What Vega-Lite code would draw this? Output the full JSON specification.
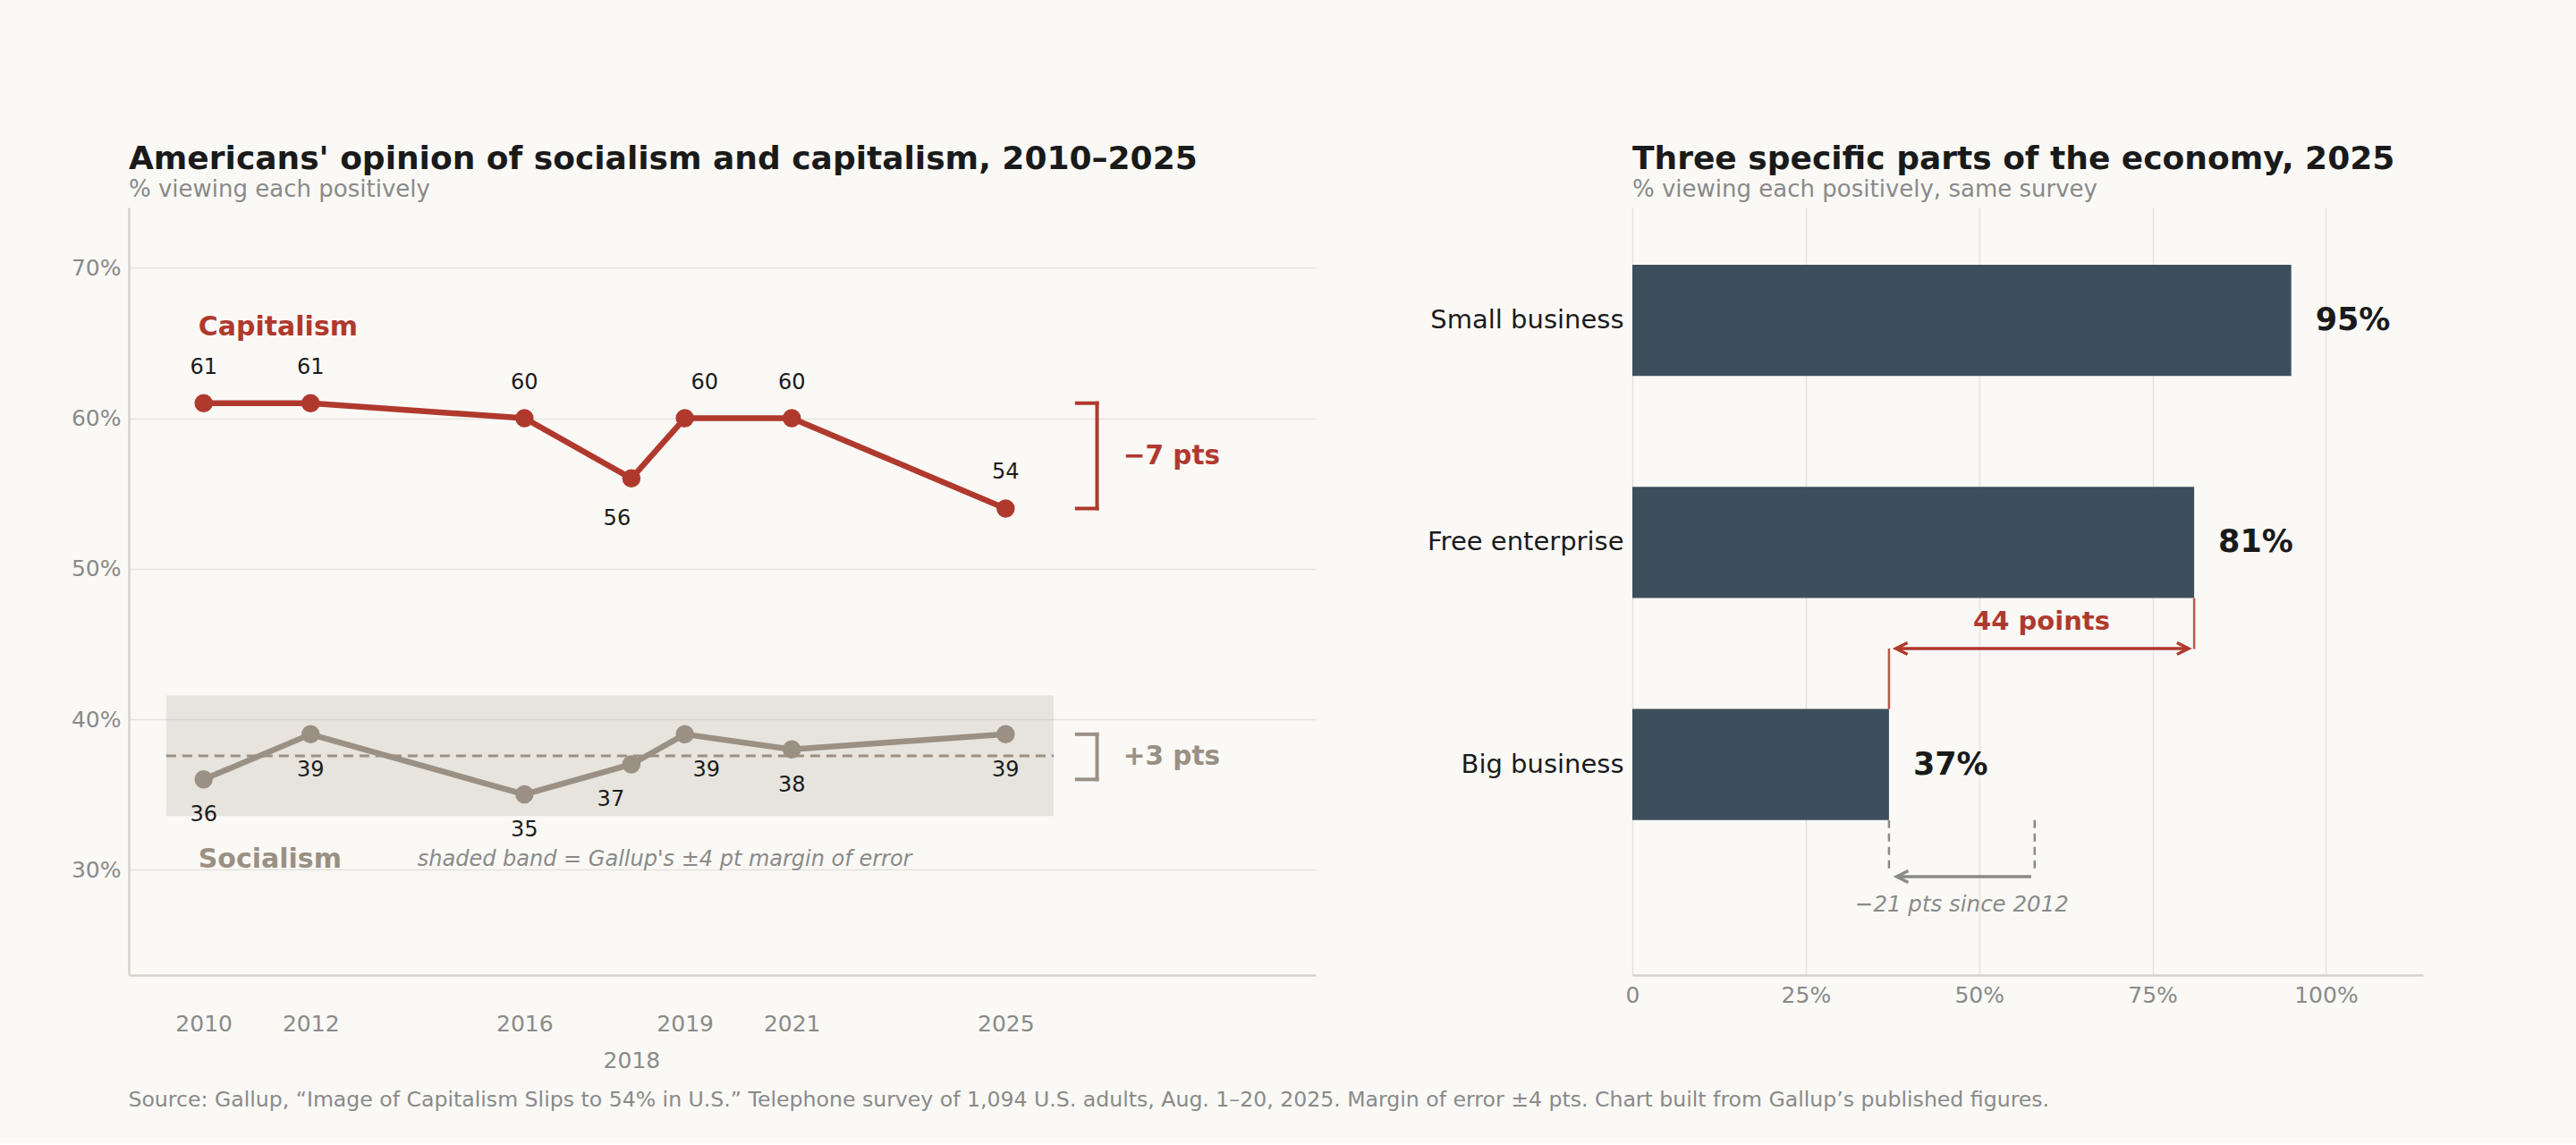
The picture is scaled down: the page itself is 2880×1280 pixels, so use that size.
{
  "$schema": "https://vega.github.io/schema/vega-lite/v6.json",
  "background": "#faf9f6",
  "padding": {"left": 79, "top": 160, "right": 174, "bottom": 35},
  "title": {
    "text": "Source: Gallup, “Image of Capitalism Slips to 54% in U.S.” Telephone survey of 1,094 U.S. adults, Aug. 1–20, 2025. Margin of error ±4 pts. Chart built from Gallup’s published figures.",
    "orient": "bottom",
    "anchor": "start",
    "frame": "bounds",
    "dx": 64,
    "offset": 20,
    "fontSize": 23.6,
    "fontWeight": "normal",
    "color": "#8a8a8a"
  },
  "datasets": {
    "trend": [
      {"year": 2010, "series": "Capitalism", "value": 61},
      {"year": 2012, "series": "Capitalism", "value": 61},
      {"year": 2016, "series": "Capitalism", "value": 60},
      {"year": 2018, "series": "Capitalism", "value": 56},
      {"year": 2019, "series": "Capitalism", "value": 60},
      {"year": 2021, "series": "Capitalism", "value": 60},
      {"year": 2025, "series": "Capitalism", "value": 54},
      {"year": 2010, "series": "Socialism", "value": 36},
      {"year": 2012, "series": "Socialism", "value": 39},
      {"year": 2016, "series": "Socialism", "value": 35},
      {"year": 2018, "series": "Socialism", "value": 37},
      {"year": 2019, "series": "Socialism", "value": 39},
      {"year": 2021, "series": "Socialism", "value": 38},
      {"year": 2025, "series": "Socialism", "value": 39}
    ],
    "band": [{"x0": 2009.3, "x1": 2025.9, "lo": 33.57, "hi": 41.57, "mean": 37.57}],
    "brackets": [
      {"series": "Capitalism", "x": 2026.71, "x2": 2026.71, "y": 54, "y2": 61},
      {"series": "Capitalism", "x": 2026.33, "x2": 2026.71, "y": 61, "y2": 61},
      {"series": "Capitalism", "x": 2026.33, "x2": 2026.71, "y": 54, "y2": 54},
      {"series": "Socialism", "x": 2026.71, "x2": 2026.71, "y": 36, "y2": 39},
      {"series": "Socialism", "x": 2026.33, "x2": 2026.71, "y": 39, "y2": 39},
      {"series": "Socialism", "x": 2026.33, "x2": 2026.71, "y": 36, "y2": 36}
    ],
    "bracketLabels": [
      {"series": "Capitalism", "x": 2027.2, "y": 57.5, "label": "−7 pts"},
      {"series": "Socialism", "x": 2027.2, "y": 37.5, "label": "+3 pts"}
    ],
    "seriesLabels": [
      {"series": "Capitalism", "x": 2009.9, "y": 66.06},
      {"series": "Socialism", "x": 2009.9, "y": 30.64}
    ],
    "note": [{"x": 2014.0, "y": 30.64, "label": "shaded band = Gallup's ±4 pt margin of error"}],
    "econ": [
      {"item": "Small business", "pct": 0.95},
      {"item": "Free enterprise", "pct": 0.81},
      {"item": "Big business", "pct": 0.37}
    ]
  },
  "hconcat": [
    {
      "width": 1327,
      "height": 858,
      "title": {
        "text": "Americans' opinion of socialism and capitalism, 2010–2025",
        "subtitle": "% viewing each positively",
        "anchor": "start",
        "frame": "group",
        "fontSize": 36,
        "fontWeight": "bold",
        "color": "#1a1a1a",
        "subtitleFontSize": 26,
        "subtitleColor": "#8a8a8a",
        "subtitlePadding": 2,
        "offset": 6
      },
      "layer": [
        {
          "data": {"name": "band"},
          "mark": {"type": "rect", "color": "#9a9083", "opacity": 0.2},
          "encoding": {
            "x": {
              "field": "x0", "type": "quantitative",
              "scale": {"domain": [2008.6, 2030.8], "nice": false, "zero": false},
              "axis": {
                "values": [2010, 2012, 2016, 2018, 2019, 2021, 2025],
                "format": "d",
                "labelExpr": "datum.value == 2018 ? ['', '2018'] : datum.label",
                "labelOverlap": false,
                "labelFlush": false,
                "labelPadding": 42,
                "labelLineHeight": 41,
                "grid": false
              }
            },
            "x2": {"field": "x1"},
            "y": {
              "field": "lo", "type": "quantitative",
              "scale": {"domain": [23, 74], "nice": false, "zero": false},
              "axis": {
                "values": [30, 40, 50, 60, 70],
                "labelExpr": "datum.value + '%'",
                "labelPadding": 9,
                "grid": true
              }
            },
            "y2": {"field": "hi"}
          }
        },
        {
          "data": {"name": "band"},
          "mark": {"type": "rule", "color": "#9a9083", "strokeWidth": 3, "strokeDash": [11, 7]},
          "encoding": {
            "x": {"field": "x0", "type": "quantitative"},
            "x2": {"field": "x1"},
            "y": {"field": "mean", "type": "quantitative"}
          }
        },
        {
          "data": {"name": "trend"},
          "mark": {"type": "line", "strokeWidth": 6.5},
          "encoding": {
            "x": {"field": "year", "type": "quantitative"},
            "y": {"field": "value", "type": "quantitative"},
            "color": {
              "field": "series", "type": "nominal",
              "scale": {"domain": ["Capitalism", "Socialism"], "range": ["#b0392e", "#9a9083"]},
              "legend": null
            }
          }
        },
        {
          "data": {"name": "trend"},
          "mark": {"type": "point", "filled": true, "size": 420, "opacity": 1},
          "encoding": {
            "x": {"field": "year", "type": "quantitative"},
            "y": {"field": "value", "type": "quantitative"},
            "color": {"field": "series", "type": "nominal", "legend": null}
          }
        },
        {
          "data": {"name": "trend"},
          "transform": [{"filter": "datum.series == 'Capitalism' && datum.year != 2018 && datum.year != 2019"}],
          "mark": {"type": "text", "fontSize": 24, "color": "#1a1a1a", "baseline": "middle", "dy": -40},
          "encoding": {
            "x": {"field": "year", "type": "quantitative"},
            "y": {"field": "value", "type": "quantitative"},
            "text": {"field": "value", "type": "quantitative"}
          }
        },
        {
          "data": {"name": "trend"},
          "transform": [{"filter": "datum.series == 'Capitalism' && datum.year == 2018"}],
          "mark": {"type": "text", "fontSize": 24, "color": "#1a1a1a", "baseline": "middle", "dy": 45, "dx": -16},
          "encoding": {
            "x": {"field": "year", "type": "quantitative"},
            "y": {"field": "value", "type": "quantitative"},
            "text": {"field": "value", "type": "quantitative"}
          }
        },
        {
          "data": {"name": "trend"},
          "transform": [{"filter": "datum.series == 'Capitalism' && datum.year == 2019"}],
          "mark": {"type": "text", "fontSize": 24, "color": "#1a1a1a", "baseline": "middle", "dy": -40, "dx": 22},
          "encoding": {
            "x": {"field": "year", "type": "quantitative"},
            "y": {"field": "value", "type": "quantitative"},
            "text": {"field": "value", "type": "quantitative"}
          }
        },
        {
          "data": {"name": "trend"},
          "transform": [{"filter": "datum.series == 'Socialism' && datum.year != 2018 && datum.year != 2019"}],
          "mark": {"type": "text", "fontSize": 24, "color": "#1a1a1a", "baseline": "middle", "dy": 40},
          "encoding": {
            "x": {"field": "year", "type": "quantitative"},
            "y": {"field": "value", "type": "quantitative"},
            "text": {"field": "value", "type": "quantitative"}
          }
        },
        {
          "data": {"name": "trend"},
          "transform": [{"filter": "datum.series == 'Socialism' && datum.year == 2018"}],
          "mark": {"type": "text", "fontSize": 24, "color": "#1a1a1a", "baseline": "middle", "dy": 40, "dx": -23},
          "encoding": {
            "x": {"field": "year", "type": "quantitative"},
            "y": {"field": "value", "type": "quantitative"},
            "text": {"field": "value", "type": "quantitative"}
          }
        },
        {
          "data": {"name": "trend"},
          "transform": [{"filter": "datum.series == 'Socialism' && datum.year == 2019"}],
          "mark": {"type": "text", "fontSize": 24, "color": "#1a1a1a", "baseline": "middle", "dy": 40, "dx": 24},
          "encoding": {
            "x": {"field": "year", "type": "quantitative"},
            "y": {"field": "value", "type": "quantitative"},
            "text": {"field": "value", "type": "quantitative"}
          }
        },
        {
          "data": {"name": "brackets"},
          "mark": {"type": "rule", "strokeWidth": 4, "strokeCap": "square"},
          "encoding": {
            "x": {"field": "x", "type": "quantitative"},
            "x2": {"field": "x2"},
            "y": {"field": "y", "type": "quantitative"},
            "y2": {"field": "y2"},
            "color": {"field": "series", "type": "nominal", "legend": null}
          }
        },
        {
          "data": {"name": "bracketLabels"},
          "mark": {"type": "text", "fontSize": 29.5, "fontWeight": "bold", "align": "left", "baseline": "middle"},
          "encoding": {
            "x": {"field": "x", "type": "quantitative"},
            "y": {"field": "y", "type": "quantitative"},
            "text": {"field": "label", "type": "nominal"},
            "color": {"field": "series", "type": "nominal", "legend": null}
          }
        },
        {
          "data": {"name": "seriesLabels"},
          "mark": {"type": "text", "fontSize": 30, "fontWeight": "bold", "align": "left", "baseline": "middle"},
          "encoding": {
            "x": {"field": "x", "type": "quantitative"},
            "y": {"field": "y", "type": "quantitative"},
            "text": {"field": "series", "type": "nominal"},
            "color": {"field": "series", "type": "nominal", "legend": null}
          }
        },
        {
          "data": {"name": "note"},
          "mark": {"type": "text", "fontSize": 24, "fontStyle": "italic", "color": "#8a8a8a", "align": "left", "baseline": "middle"},
          "encoding": {
            "x": {"field": "x", "type": "quantitative"},
            "y": {"field": "y", "type": "quantitative"},
            "text": {"field": "label", "type": "nominal"}
          }
        }
      ]
    },
    {
      "width": 884,
      "height": 858,
      "title": {
        "text": "Three specific parts of the economy, 2025",
        "subtitle": "% viewing each positively, same survey",
        "anchor": "start",
        "frame": "group",
        "fontSize": 36,
        "fontWeight": "bold",
        "color": "#1a1a1a",
        "subtitleFontSize": 26,
        "subtitleColor": "#8a8a8a",
        "subtitlePadding": 2,
        "offset": 6
      },
      "layer": [
        {
          "data": {"name": "econ"},
          "mark": {"type": "bar", "color": "#3d4f5c"},
          "encoding": {
            "x": {
              "field": "pct", "type": "quantitative",
              "scale": {"domain": [0, 1.14], "nice": false},
              "axis": {
                "values": [0, 0.25, 0.5, 0.75, 1],
                "format": ".0%",
                "labelExpr": "datum.value == 0 ? '0' : datum.label",
                "labelFlush": false,
                "labelOverlap": false,
                "labelPadding": 10,
                "grid": true
              }
            },
            "y": {
              "field": "item", "type": "nominal", "sort": null,
              "scale": {
                "domain": ["Small business", "Free enterprise", "Big business"],
                "paddingInner": 0.5, "paddingOuter": 0.478, "align": 0.27
              },
              "axis": {"labelColor": "#1a1a1a", "labelFontSize": 29, "labelPadding": 10, "labelLimit": 0, "domain": false, "grid": false}
            }
          }
        },
        {
          "data": {"name": "econ"},
          "mark": {"type": "text", "fontSize": 35, "fontWeight": "bold", "color": "#1a1a1a", "align": "left", "baseline": "middle", "dx": 27},
          "encoding": {
            "x": {"field": "pct", "type": "quantitative"},
            "y": {"field": "item", "type": "nominal"},
            "text": {"field": "pct", "type": "quantitative", "format": ".0%"}
          }
        },
        {
          "data": {"values": [{"item": "Free enterprise", "item2": "Big business", "pct": 0.81}]},
          "mark": {"type": "rule", "color": "#c0554a", "strokeWidth": 2.5},
          "encoding": {
            "x": {"field": "pct", "type": "quantitative"},
            "y": {"field": "item", "type": "nominal", "bandPosition": 1},
            "y2": {"field": "item2", "bandPosition": -0.54}
          }
        },
        {
          "data": {"values": [{"item": "Big business", "pct": 0.37}]},
          "mark": {"type": "rule", "color": "#c0554a", "strokeWidth": 2.5},
          "encoding": {
            "x": {"field": "pct", "type": "quantitative"},
            "y": {"field": "item", "type": "nominal", "bandPosition": -0.545},
            "y2": {"field": "item", "bandPosition": 0}
          }
        },
        {
          "data": {"values": [{"item": "Big business", "from": 0.38, "to": 0.802}]},
          "mark": {"type": "rule", "color": "#b0392e", "strokeWidth": 3.5},
          "encoding": {
            "x": {"field": "from", "type": "quantitative"},
            "x2": {"field": "to"},
            "y": {"field": "item", "type": "nominal", "bandPosition": -0.545}
          }
        },
        {
          "data": {"values": [{"item": "Big business", "tip": 0.38}]},
          "mark": {"type": "point", "shape": "M1,-0.5L0,0L1,0.5", "size": 676, "filled": false, "color": "#b0392e", "strokeWidth": 3.5, "opacity": 1},
          "encoding": {
            "x": {"field": "tip", "type": "quantitative"},
            "y": {"field": "item", "type": "nominal", "bandPosition": -0.545}
          }
        },
        {
          "data": {"values": [{"item": "Big business", "tip": 0.802}]},
          "mark": {"type": "point", "shape": "M-1,-0.5L0,0L-1,0.5", "size": 676, "filled": false, "color": "#b0392e", "strokeWidth": 3.5, "opacity": 1},
          "encoding": {
            "x": {"field": "tip", "type": "quantitative"},
            "y": {"field": "item", "type": "nominal", "bandPosition": -0.545}
          }
        },
        {
          "data": {"values": [{"item": "Big business", "mid": 0.59, "label": "44 points"}]},
          "mark": {"type": "text", "fontSize": 29, "fontWeight": "bold", "color": "#b0392e", "baseline": "middle"},
          "encoding": {
            "x": {"field": "mid", "type": "quantitative"},
            "y": {"field": "item", "type": "nominal", "bandPosition": -0.79},
            "text": {"field": "label", "type": "nominal"}
          }
        },
        {
          "data": {"values": [{"item": "Big business", "pct": 0.37}, {"item": "Big business", "pct": 0.58}]},
          "mark": {"type": "rule", "color": "#8a8a8a", "strokeWidth": 2.5, "strokeDash": [9, 6]},
          "encoding": {
            "x": {"field": "pct", "type": "quantitative"},
            "y": {"field": "item", "type": "nominal", "bandPosition": 1},
            "y2": {"field": "item", "bandPosition": 1.48}
          }
        },
        {
          "data": {"values": [{"item": "Big business", "from": 0.381, "to": 0.575}]},
          "mark": {"type": "rule", "color": "#8a8a8a", "strokeWidth": 3.5},
          "encoding": {
            "x": {"field": "from", "type": "quantitative"},
            "x2": {"field": "to"},
            "y": {"field": "item", "type": "nominal", "bandPosition": 1.51}
          }
        },
        {
          "data": {"values": [{"item": "Big business", "tip": 0.381}]},
          "mark": {"type": "point", "shape": "M1,-0.5L0,0L1,0.5", "size": 676, "filled": false, "color": "#8a8a8a", "strokeWidth": 3.5, "opacity": 1},
          "encoding": {
            "x": {"field": "tip", "type": "quantitative"},
            "y": {"field": "item", "type": "nominal", "bandPosition": 1.51}
          }
        },
        {
          "data": {"values": [{"item": "Big business", "mid": 0.475, "label": "−21 pts since 2012"}]},
          "mark": {"type": "text", "fontSize": 24.5, "fontStyle": "italic", "color": "#8a8a8a", "baseline": "middle"},
          "encoding": {
            "x": {"field": "mid", "type": "quantitative"},
            "y": {"field": "item", "type": "nominal", "bandPosition": 1.77},
            "text": {"field": "label", "type": "nominal"}
          }
        }
      ]
    }
  ],
  "spacing": 124,
  "config": {
    "font": "DejaVu Sans",
    "view": {"stroke": null},
    "axis": {
      "labelFont": "DejaVu Sans",
      "labelFontSize": 25,
      "labelColor": "#8a8a8a",
      "gridColor": "#e6e3de",
      "gridWidth": 1.5,
      "domainColor": "#d6d2cb",
      "domainWidth": 2.5,
      "ticks": false,
      "title": null
    },
    "title": {"font": "DejaVu Sans", "subtitleFont": "DejaVu Sans"}
  }
}
